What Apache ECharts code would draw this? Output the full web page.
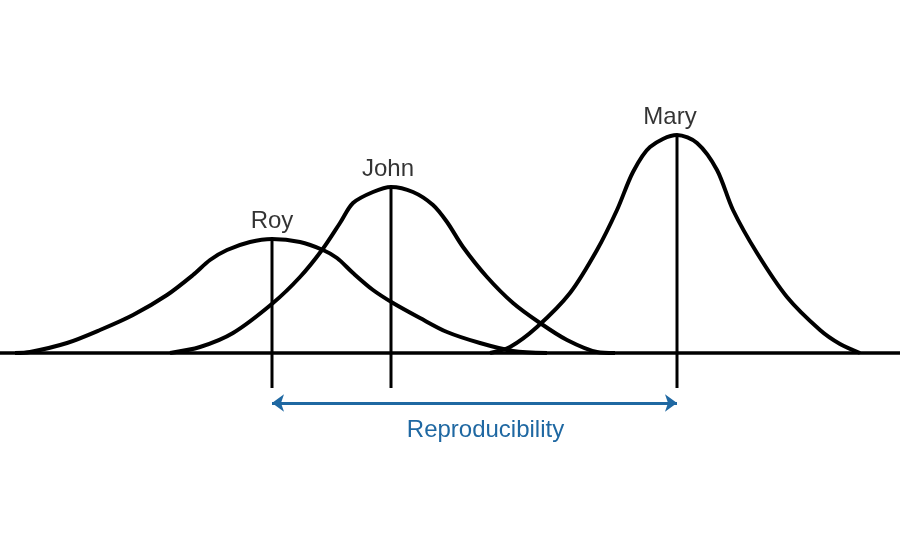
<!DOCTYPE html>
<html>
<head>
<meta charset="utf-8">
<script src="https://cdn.jsdelivr.net/npm/echarts@6/dist/echarts.min.js"></script>
<style>
  html, body { margin: 0; padding: 0; background: #fff; }
  #chart { width: 900px; height: 550px; }
</style>
</head>
<body>
<div id="chart"></div>
<script>
// curve outlines: [x, height above the baseline]
const royCurve = [[15, 0], [30, 1], [67, 10], [100, 23], [133, 38], [167, 58], [193, 78], [210, 93], [227, 103], [250, 111], [272, 114], [300, 111], [323, 103], [337, 95], [353, 80], [373, 63], [393, 50], [420, 35], [447, 21], [480, 10], [513, 2], [547, 0]];
const johnCurve = [[170, 0], [200, 6], [233, 20], [273, 50], [300, 76], [322, 103], [340, 130], [353, 150], [373, 161], [391, 166], [413, 161], [433, 148], [447, 131], [463, 106], [487, 76], [513, 50], [540, 30], [567, 13], [597, 1], [615, 0]];
const maryCurve = [[490, 0], [510, 6], [537, 26], [570, 60], [597, 103], [617, 143], [633, 181], [650, 206], [677, 218], [697, 210], [717, 183], [733, 143], [757, 100], [787, 56], [820, 23], [840, 9], [860, 0]];

const names = ["Roy", "John", "Mary"];
const peakX = [272, 391, 677];
const peakY = [114, 166, 218];
const tickBottom = -35;
const arrowY = -50;
const arrowLabel = "Reproducibility";

const blue = "#1f68a2";
const curves = [royCurve, johnCurve, maryCurve];
const nameShift = [0, -3, -7];

const chart = echarts.init(document.getElementById("chart"));

const series = curves.map((c, i) => ({
  name: names[i],
  type: "line",
  data: c,
  smooth: 0.3,
  symbol: "none",
  lineStyle: { color: "#000", width: 4 },
  silent: true,
  z: 3,
}));

// vertical lines from each peak
names.forEach((n, i) => {
  series.push({
    type: "line",
    data: [[peakX[i], peakY[i]], [peakX[i], tickBottom]],
    symbol: "none",
    lineStyle: { color: "#000", width: 3 },
    silent: true,
    z: 2,
  });
});

// names above the peaks
series.push({
  type: "scatter",
  data: names.map((n, i) => ({
    name: n,
    value: [peakX[i], peakY[i]],
    label: { offset: [nameShift[i], 0], color: "#000" },
  })),
  symbolSize: 0,
  label: {
    show: true,
    position: "top",
    distance: 6,
    formatter: "{b}",
    color: "#000",
    fontSize: 24,
    fontFamily: "Liberation Sans, Arial, sans-serif",
  },
  silent: true,
  z: 5,
});

// arrow between Roy and Mary
series.push({
  type: "line",
  data: [],
  markLine: {
    silent: true,
    symbol: ["arrow", "arrow"],
    symbolSize: [13, 12],
    lineStyle: { color: blue, width: 3, type: "solid" },
    label: {
      show: true,
      position: "insideMiddleBottom",
      distance: 15,
      offset: [11, 0],
      formatter: arrowLabel,
      color: blue,
      fontSize: 24,
      fontFamily: "Liberation Sans, Arial, sans-serif",
    },
    data: [[{ coord: [peakX[0], arrowY] }, { coord: [peakX[2], arrowY] }]],
  },
});

const option = {
  animation: false,
  grid: { left: 0, right: 0, top: 0, bottom: 0 },
  xAxis: {
    type: "value",
    min: 0,
    max: 900,
    axisLine: { show: true, onZero: true, lineStyle: { color: "#000", width: 3.5 } },
    axisTick: { show: false },
    axisLabel: { show: false },
    splitLine: { show: false },
  },
  yAxis: {
    type: "value",
    min: -197,
    max: 353,
    show: false,
    splitLine: { show: false },
  },
  series: series,
};
chart.setOption(option);
</script>
</body>
</html>
